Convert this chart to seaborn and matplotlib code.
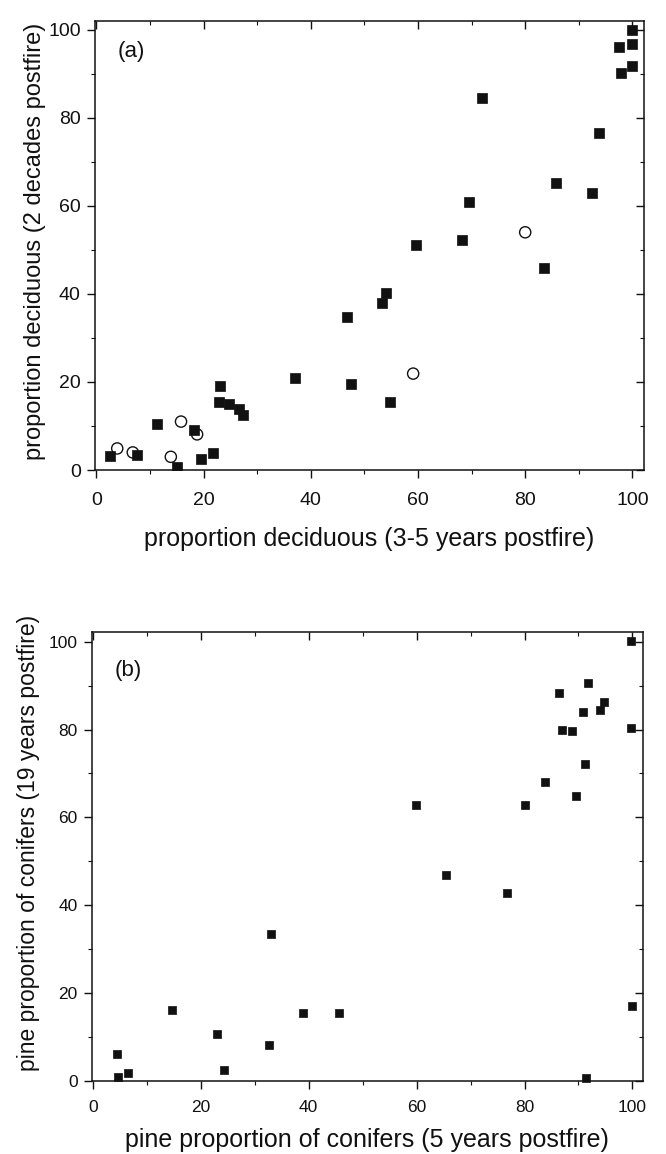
import matplotlib
matplotlib.use("Agg")
import matplotlib.pyplot as plt
import numpy as np
import pandas as pd
import seaborn as sns
from matplotlib.ticker import MultipleLocator

# panel (a): filled squares
a_sq_x = [2.6, 7.6, 11.3, 15.0, 18.3, 19.5, 21.8, 23.0, 22.9, 24.8, 26.7, 27.4,
          37.0, 46.7, 47.5, 53.2, 54.0, 54.8, 59.6, 68.2, 69.6, 71.9, 83.5, 85.7,
          92.5, 93.8, 97.5, 97.8, 99.9, 99.9, 99.9]
a_sq_y = [3.2, 3.3, 10.5, 0.8, 9.1, 2.5, 3.8, 19.1, 15.5, 14.9, 13.8, 12.6,
          21.0, 34.8, 19.5, 37.9, 40.1, 15.5, 51.2, 52.2, 60.8, 84.5, 45.8, 65.2,
          62.9, 76.5, 96.1, 90.2, 100.0, 96.7, 91.7]
# panel (a): open circles
a_ci_x = [3.9, 6.8, 13.9, 15.8, 18.8, 59.1, 80.0]
a_ci_y = [4.9, 4.0, 3.0, 11.0, 8.1, 21.9, 54.0]

# panel (b)
b_x = [4.5, 4.7, 6.6, 14.6, 23.1, 24.4, 33.1, 32.7, 39.0, 45.7,
       59.9, 65.5, 76.7, 80.0, 83.8, 86.4, 86.9, 88.8, 89.5, 90.9,
       91.3, 91.7, 93.9, 94.8, 99.8, 99.8, 100.0, 91.4]
b_y = [6.1, 0.8, 1.6, 16.0, 10.6, 2.4, 33.5, 8.0, 15.4, 15.4,
       62.8, 46.8, 42.8, 62.7, 68.1, 88.4, 79.8, 79.7, 64.9, 84.1,
       72.2, 90.7, 84.5, 86.3, 100.2, 80.3, 16.9, 0.5]

sns.set_theme(style="ticks")
plt.rcParams["font.family"] = ["Liberation Sans", "DejaVu Sans"]

fig = plt.figure(figsize=(6.66, 11.54), dpi=100)
ax_a = fig.add_axes([0.1422, 0.5927, 0.8243, 0.3891])
ax_b = fig.add_axes([0.1377, 0.0633, 0.8273, 0.3893])

df_sq = pd.DataFrame({"x": a_sq_x, "y": a_sq_y})
df_ci = pd.DataFrame({"x": a_ci_x, "y": a_ci_y})
df_b = pd.DataFrame({"x": b_x, "y": b_y})

sns.scatterplot(data=df_sq, x="x", y="y", marker="s", s=55, color="#111111",
                edgecolor="#111111", linewidth=0.5, ax=ax_a, zorder=3)
sns.scatterplot(data=df_ci, x="x", y="y", marker="o", s=65, facecolor="none",
                edgecolor="#111111", linewidth=1.0, ax=ax_a, zorder=3)
sns.scatterplot(data=df_b, x="x", y="y", marker="s", s=36, color="#111111",
                edgecolor="#111111", linewidth=0.5, ax=ax_b, zorder=3, clip_on=False)


def _style(ax, xlabel, ylabel, tag, xlim, ylim, tick_fs, xpad, ylab_fs,
           xlab_y, ylab_xy, tag_xy):
    ax.set_xlim(*xlim)
    ax.set_ylim(*ylim)
    ax.xaxis.set_major_locator(MultipleLocator(20))
    ax.yaxis.set_major_locator(MultipleLocator(20))
    ax.xaxis.set_minor_locator(MultipleLocator(10))
    ax.yaxis.set_minor_locator(MultipleLocator(10))
    for side in ["left", "right", "top", "bottom"]:
        ax.spines[side].set_visible(True)
        ax.spines[side].set_linewidth(1.1)
        ax.spines[side].set_color("#111111")
    ax.tick_params(which="major", direction="out", length=6, width=1.0,
                   colors="#111111", labelsize=tick_fs)
    ax.tick_params(axis="x", which="major", pad=xpad)
    ax.tick_params(axis="y", which="major", pad=4)
    ax.tick_params(which="minor", direction="out", length=3, width=0.8,
                   colors="#111111")
    ax.tick_params(which="both", top=True, right=True)
    # ticks on the top and right point inward
    for t in ax.xaxis.get_major_ticks() + ax.xaxis.get_minor_ticks():
        t.tick2line.set_marker(matplotlib.lines.TICKDOWN)
    for t in ax.yaxis.get_major_ticks() + ax.yaxis.get_minor_ticks():
        t.tick2line.set_marker(matplotlib.lines.TICKLEFT)
    ax.set_xlabel(xlabel, fontsize=18, color="#111111")
    ax.set_ylabel(ylabel, fontsize=ylab_fs, color="#111111")
    ax.xaxis.set_label_coords(0.5, xlab_y)
    ax.yaxis.set_label_coords(*ylab_xy)
    ax.text(tag_xy[0], tag_xy[1], tag, fontsize=16, ha="left",
            va="center", color="#111111")


_style(ax_a, "proportion deciduous (3-5 years postfire)",
       "proportion deciduous (2 decades postfire)", "(a)",
       (-0.3, 102.1), (0, 102), 14, 10, 17, -0.127, (-0.088, 0.51), (4.0, 95.0))
_style(ax_b, "pine proportion of conifers (5 years postfire)",
       "pine proportion of conifers (19 years postfire)", "(b)",
       (-0.2, 101.9), (-0.1, 102.3), 12.5, 8, 16.5, -0.105, (-0.093, 0.53), (4.0, 93.5))

fig.savefig("out.png", dpi=100)
